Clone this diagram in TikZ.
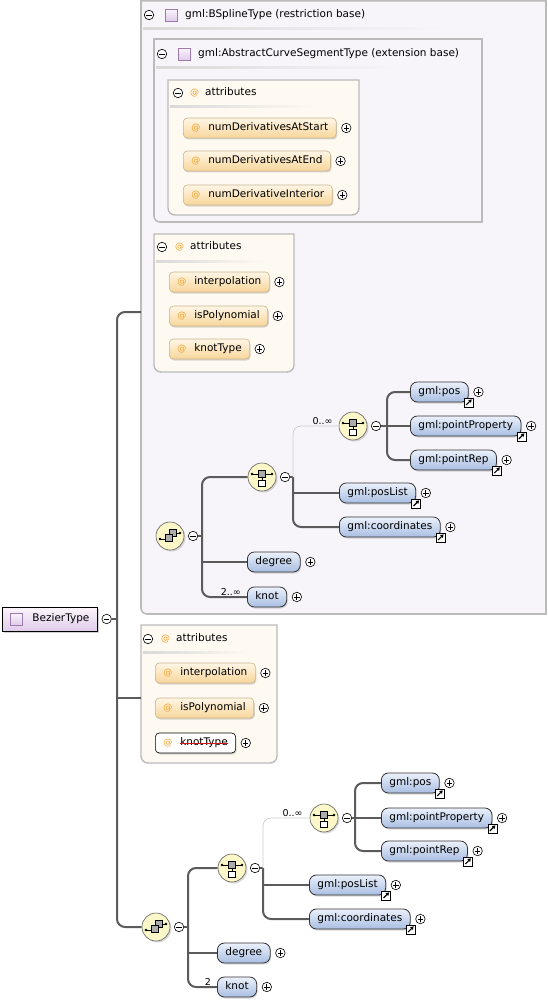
\documentclass[tikz,border=0pt]{standalone}
\usepackage{fontspec}
\setmainfont{DejaVu Sans}
\usepackage{tikz}
\usetikzlibrary{arrows.meta,positioning,shadows}
\definecolor{lavbg}{HTML}{F8F5FA}
\definecolor{boxline}{HTML}{BBBBBB}
\definecolor{attbg}{HTML}{FFFAF1}
\definecolor{atttop}{HTML}{FFF6E6}
\definecolor{attbot}{HTML}{F8D69A}
\definecolor{attline}{HTML}{C9B48E}
\definecolor{atsign}{HTML}{F0A22E}
\definecolor{eltop}{HTML}{EBF1FB}
\definecolor{elbot}{HTML}{A9BEE2}
\definecolor{compfill}{HTML}{FBF7C8}
\definecolor{connline}{HTML}{5B5B5B}
\definecolor{typetop}{HTML}{FBF5FC}
\definecolor{typebot}{HTML}{E0CCEA}
\definecolor{typeline}{HTML}{9E7AAE}
\definecolor{strikered}{HTML}{D01818}
\newcommand{\atmark}{{\color{atsign}\fontsize{9}{10}\selectfont @}}
\tikzset{
  conn/.style      = {draw=connline, line width=2pt},
  faintconn/.style = {draw=gray!40, line width=0.7pt},
  grpbox/.style    = {draw=boxline, line width=1.6pt, fill=lavbg},
  attbox/.style    = {draw=boxline, line width=1.4pt, fill=attbg},
  sepline/.style   = {left color=gray!30, right color=#1},
  hdr/.style       = {inner sep=1pt, text height=8pt, text depth=2.5pt},
  elem/.style      = {anchor=west, draw=black!80, line width=0.8pt, rounded corners=7pt,
                      top color=eltop, bottom color=elbot, minimum height=20pt,
                      inner xsep=8pt, text height=8pt, text depth=2.5pt,
                      drop shadow={shadow xshift=1pt, shadow yshift=-1.5pt, opacity=.3}},
  attr/.style      = {anchor=west, draw=attline, line width=0.6pt, rounded corners=4pt,
                      top color=atttop, bottom color=attbot, minimum height=20pt,
                      inner xsep=8pt, text height=8pt, text depth=2.5pt,
                      drop shadow={shadow xshift=1pt, shadow yshift=-1.5pt, opacity=.3}},
  oldattr/.style   = {attr, draw=black, top color=white, bottom color=white},
  typebox/.style   = {anchor=west, draw=black, line width=0.9pt, top color=typetop,
                      bottom color=typebot, minimum height=24pt, inner xsep=8pt,
                      text height=8pt, text depth=2.5pt,
                      drop shadow={shadow xshift=2pt, shadow yshift=-2pt, opacity=.35}},
  comp/.style      = {circle, draw=gray!75!black, line width=0.6pt, fill=compfill,
                      minimum size=28pt, inner sep=0pt,
                      drop shadow={shadow xshift=1.5pt, shadow yshift=-1.5pt, opacity=.3}},
  minusbtn/.style  = {circle, draw=black, line width=0.6pt, fill=white, minimum size=9.5pt,
                      inner sep=0pt, outer sep=0pt,
                      path picture={\draw[line width=0.7pt]
                        ([xshift=2pt]path picture bounding box.west) --
                        ([xshift=-2pt]path picture bounding box.east);}},
  plusbtn/.style   = {minusbtn,
                      path picture={\draw[line width=0.7pt]
                        ([xshift=2pt]path picture bounding box.west) --
                        ([xshift=-2pt]path picture bounding box.east)
                        ([yshift=2pt]path picture bounding box.south) --
                        ([yshift=-2pt]path picture bounding box.north);}},
  lbl/.style       = {font=\fontsize{9.5}{11}\selectfont, inner sep=1pt},
  typesq/.pic      = {\draw[typeline, line width=0.8pt, top color=typetop, bottom color=typebot]
                        (-6,-6) rectangle (6,6);},
  choicemark/.pic  = {\draw[line width=0.7pt] (-10,-3) -- (10,-3);
                      \fill (-10,-3) circle (1.4pt) (10,-3) circle (1.4pt);
                      \draw[fill=gray!65, line width=0.7pt] (-3.5,-7) rectangle (3.5,0.5);
                      \draw[line width=0.7pt] (0,0.5) -- (0,3);
                      \draw[fill=white, line width=0.7pt] (-3.5,3) rectangle (3.5,9.5);},
  seqmark/.pic     = {\draw[line width=0.7pt] (-10,3) -- (-5,3) (6,-3) -- (10,-3);
                      \fill (-10,3) circle (1.4pt) (10,-3) circle (1.4pt);
                      \draw[fill=gray!65, line width=0.7pt] (-1,-7) rectangle (6,0);
                      \draw[fill=gray!65, line width=0.7pt] (-5,-2) rectangle (2,5);},
  linkmark/.pic    = {\draw[fill=white, line width=0.7pt] (-4.5,-4.5) rectangle (4.5,4.5);
                      \draw[line width=1.1pt, -{Triangle[length=3pt,width=3.6pt]}]
                        (-2.5,2.5) -- (3,-3);}
}

\begin{document}
\begin{tikzpicture}[x=1pt, y=-1pt, font=\fontsize{10.5}{12.6}\selectfont]
  \useasboundingbox (0,0) rectangle (548,1003);
  % restriction base and its extension base
  \draw[grpbox] (141,0.8) -- (546,0.8) -- (546,614) [rounded corners=6pt] -- (141,614) [sharp corners] -- cycle;
  \node[minusbtn] (rsm) at (149,15) {};
  \pic at (171,15) {typesq};
  \node[hdr, anchor=west] (rstitle) at (184,15) {gml:BSplineType (restriction base)};
  \shade[sepline=lavbg] (143,28) rectangle (445,30);
  \draw[grpbox] (154,39) -- (482,39) -- (482,222) [rounded corners=6pt] -- (154,222) [sharp corners] -- cycle;
  \node[minusbtn] (exm) at (162,54) {};
  \pic at (184,54) {typesq};
  \node[hdr, anchor=west] (extitle) at (197,54) {gml:AbstractCurveSegmentType (extension base)};
  \shade[sepline=lavbg] (156,67) rectangle (400,69);

  % attributes of the extension base
  \draw[attbox] (168,80) -- (359,80) [rounded corners=7pt] -- (359,215) -- (168,215) [sharp corners] -- cycle;
  \node[minusbtn] (atam) at (178,93) {};
  \node[hdr, anchor=west] (atah) at (189,93) {\atmark\hspace{6pt}attributes};
  \shade[sepline=attbg] (170,106) rectangle (315,108);
  \node[attr] (nda) at (183,128) {\atmark\hspace{8pt}numDerivativesAtStart};
  \node[plusbtn, right=5pt of nda] (ndap) {};
  \node[attr] (nde) at (183,161) {\atmark\hspace{8pt}numDerivativesAtEnd};
  \node[plusbtn, right=5pt of nde] (ndep) {};
  \node[attr] (ndi) at (183,195) {\atmark\hspace{8pt}numDerivativeInterior};
  \node[plusbtn, right=5pt of ndi] (ndip) {};

  % attributes of the restriction base
  \draw[attbox] (154,234) -- (294,234) [rounded corners=7pt] -- (294,372) -- (154,372) [sharp corners] -- cycle;
  \node[minusbtn] (atbm) at (162,247) {};
  \node[hdr, anchor=west] (atbh) at (174,247) {\atmark\hspace{6pt}attributes};
  \shade[sepline=attbg] (156,260) rectangle (265,262);
  \node[attr] (interp1) at (169,282) {\atmark\hspace{8pt}interpolation};
  \node[plusbtn, right=5pt of interp1] (interp1p) {};
  \node[attr] (ispoly1) at (169,316) {\atmark\hspace{8pt}isPolynomial};
  \node[plusbtn, right=5pt of ispoly1] (ispoly1p) {};
  \node[attr] (ktype1) at (169,349) {\atmark\hspace{8pt}knotType};
  \node[plusbtn, right=5pt of ktype1] (ktype1p) {};

  % content model of the restriction base
  \node[comp] (seq1) at (170,536) {};
  \pic at (seq1) {seqmark};
  \node[minusbtn, right=4pt of seq1] (seq1m) {};
  \coordinate (s1t) at (202,536);
  \node[comp] (ch1) at (262,477) {};
  \pic at (ch1) {choicemark};
  \node[minusbtn, right=4pt of ch1] (ch1m) {};
  \coordinate (c1t) at (293,477);
  \node[comp] (ch2) at (353,426) {};
  \pic at (ch2) {choicemark};
  \node[minusbtn, right=4pt of ch2] (ch2m) {};
  \coordinate (c2t) at (387,426);
  \node[elem] (pos1) at (410,392) {gml:pos};
  \node[elem] (pprop1) at (410,426) {gml:pointProperty};
  \node[elem] (prep1) at (410,460) {gml:pointRep};
  \node[elem] (plist1) at (339,493) {gml:posList};
  \node[elem] (coord1) at (339,527) {gml:coordinates};
  \node[elem] (deg1) at (247,562) {degree};
  \node[elem] (knot1) at (247,597) {knot};
  \node[lbl, anchor=south east] (mul1) at ([xshift=-5pt]ch2.west) {0..∞};
  \node[lbl, anchor=south east] (mul2) at ([xshift=-5pt]knot1.west) {2..∞};
  \draw[conn] (seq1m) -- (s1t);
  \draw[conn, rounded corners=8pt] (ch1.west) -| (s1t) |- (knot1.west);
  \draw[conn] (s1t |- deg1.west) -- (deg1.west);
  \draw[conn] (ch1m) -- (c1t);
  \draw[conn, rounded corners=8pt] (c1t) |- (coord1.west);
  \draw[conn] (c1t |- plist1.west) -- (plist1.west);
  \draw[faintconn, rounded corners=8pt] (c1t) |- (ch2.west);
  \draw[conn] (ch2m) -- (c2t) -- (pprop1.west);
  \draw[conn, rounded corners=8pt] (pos1.west) -| (c2t) |- (prep1.west);
  \foreach \e in {pos1,pprop1,prep1,plist1,coord1}
    \pic at (\e.south east) {linkmark};
  \foreach \e in {pos1,pprop1,prep1,plist1,coord1,deg1,knot1}
    \node[plusbtn, right=5pt of \e] (\e p) {};

  % BezierType and its trunk
  \node[typebox] (bz) at (2,619) {\hspace{22pt}BezierType};
  \pic at ([xshift=14pt]bz.west) {typesq};
  \node[minusbtn, right=4pt of bz] (bzm) {};
  \coordinate (trk) at (117,619);
  \coordinate (rsin) at (141,312);
  \coordinate (atcin) at (141,698);

  % own attributes
  \draw[attbox] (141,625) -- (277,625) [rounded corners=7pt] -- (277,763) -- (141,763) [sharp corners] -- cycle;
  \node[minusbtn] (atcm) at (148,639) {};
  \node[hdr, anchor=west] (atch) at (160,639) {\atmark\hspace{6pt}attributes};
  \shade[sepline=attbg] (143,651) rectangle (250,653);
  \node[attr] (interp2) at (155,673) {\atmark\hspace{8pt}interpolation};
  \node[plusbtn, right=5pt of interp2] (interp2p) {};
  \node[attr] (ispoly2) at (155,708) {\atmark\hspace{8pt}isPolynomial};
  \node[plusbtn, right=5pt of ispoly2] (ispoly2p) {};
  \node[oldattr] (ktype2) at (155,743) {\atmark\hspace{8pt}knotType};
  \node[plusbtn, right=5pt of ktype2] (ktype2p) {};
  \draw[strikered, line width=1pt] ([xshift=25pt]ktype2.west) -- ([xshift=-8pt]ktype2.east);

  % own content model
  \node[comp] (seq2) at (156,927) {};
  \pic at (seq2) {seqmark};
  \node[minusbtn, right=4pt of seq2] (seq2m) {};
  \coordinate (s2t) at (188,927);
  \node[comp] (ch3) at (232,868) {};
  \pic at (ch3) {choicemark};
  \node[minusbtn, right=4pt of ch3] (ch3m) {};
  \coordinate (c3t) at (263,868);
  \node[comp] (ch4) at (324,818) {};
  \pic at (ch4) {choicemark};
  \node[minusbtn, right=4pt of ch4] (ch4m) {};
  \coordinate (c4t) at (355,818);
  \node[elem] (pos2) at (381,783) {gml:pos};
  \node[elem] (pprop2) at (381,818) {gml:pointProperty};
  \node[elem] (prep2) at (381,851) {gml:pointRep};
  \node[elem] (plist2) at (309,885) {gml:posList};
  \node[elem] (coord2) at (309,919) {gml:coordinates};
  \node[elem] (deg2) at (217,953) {degree};
  \node[elem] (knot2) at (217,987) {knot};
  \node[lbl, anchor=south east] (mul3) at ([xshift=-6pt]ch4.west) {0..∞};
  \node[lbl, anchor=south east] (mul4) at ([xshift=-5pt]knot2.west) {2};
  \draw[conn] (seq2m) -- (s2t);
  \draw[conn, rounded corners=8pt] (ch3.west) -| (s2t) |- (knot2.west);
  \draw[conn] (s2t |- deg2.west) -- (deg2.west);
  \draw[conn] (ch3m) -- (c3t);
  \draw[conn, rounded corners=8pt] (c3t) |- (coord2.west);
  \draw[conn] (c3t |- plist2.west) -- (plist2.west);
  \draw[faintconn, rounded corners=8pt] (c3t) |- (ch4.west);
  \draw[conn] (ch4m) -- (c4t) -- (pprop2.west);
  \draw[conn, rounded corners=8pt] (pos2.west) -| (c4t) |- (prep2.west);
  \foreach \e in {pos2,pprop2,prep2,plist2,coord2}
    \pic at (\e.south east) {linkmark};
  \foreach \e in {pos2,pprop2,prep2,plist2,coord2,deg2,knot2}
    \node[plusbtn, right=5pt of \e] (\e p) {};

  % trunk from BezierType to its parts
  \draw[conn] (bzm) -- (trk);
  \draw[conn, rounded corners=8pt] (rsin) -| (trk) |- (seq2.west);
  \draw[conn] (trk |- atcin) -- (atcin);
\end{tikzpicture}
\end{document}
